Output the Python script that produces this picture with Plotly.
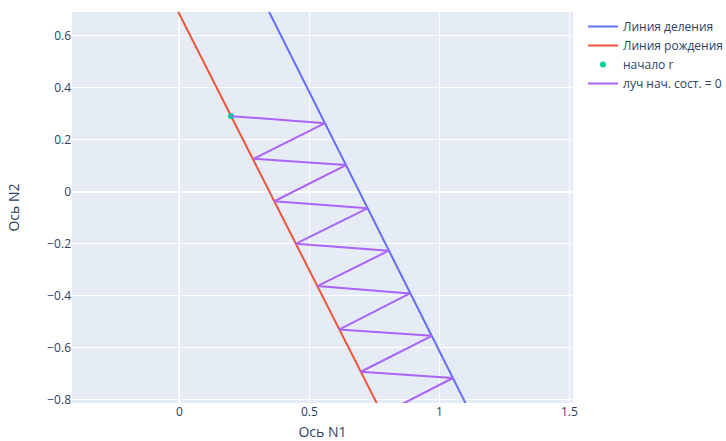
import plotly.graph_objects as go

# Lines (endpoints extend past the visible area, clipped by axis ranges)
div_x = [0.30, 1.15]
div_y = [0.780, -0.911]
birth_x = [-0.05, 0.80]
birth_y = [0.780, -0.893]

start_x = [0.199]
start_y = [0.290]

# zig-zag ray between birth line and division line
ray_x = [0.199, 0.560, 0.285, 0.641, 0.365, 0.723, 0.449, 0.805, 0.531, 0.887,
         0.614, 0.971, 0.698, 1.052, 0.781]
ray_y = [0.290, 0.263, 0.126, 0.102, -0.037, -0.064, -0.200, -0.227, -0.363, -0.391,
         -0.530, -0.554, -0.692, -0.716, -0.855]

fig = go.Figure()
fig.add_trace(go.Scatter(x=div_x, y=div_y, mode="lines", name="Линия деления"))
fig.add_trace(go.Scatter(x=birth_x, y=birth_y, mode="lines", name="Линия рождения"))
fig.add_trace(go.Scatter(x=start_x, y=start_y, mode="markers", name="начало r"))
fig.add_trace(go.Scatter(x=ray_x, y=ray_y, mode="lines", name="луч нач. сост. = 0"))

fig.update_layout(
    width=726, height=441,
    template="plotly",
    margin=dict(l=72, r=153, t=12, b=38, autoexpand=False),
    xaxis=dict(title=dict(text="Ось N1", standoff=22), range=[-0.413, 1.514],
               automargin=False, tickvals=[0, 0.5, 1, 1.5]),
    yaxis=dict(title=dict(text="Ось N2", standoff=24), range=[-0.812, 0.69],
               automargin=False,
               tickvals=[-0.8, -0.6, -0.4, -0.2, 0, 0.2, 0.4, 0.6]),
)
fig.write_html(
    "out.html",
    config={"displayModeBar": False},
    post_script="document.body.style.margin='0';document.body.style.overflow='hidden';",
)
